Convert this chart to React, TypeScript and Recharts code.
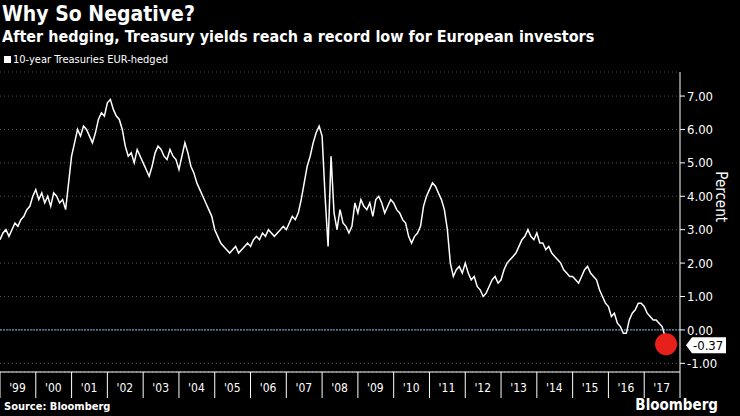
import React from 'react';
import { LineChart, Line, XAxis, YAxis, CartesianGrid, ReferenceLine, ReferenceDot } from 'recharts';

// monthly readings, Jan 1999 .. Sep 2017
const yields = [
  2.7, 2.9, 3.0, 2.8, 3.0, 3.2, 3.1, 3.3, 3.4, 3.6, 3.7, 4.0,
  4.2, 3.9, 4.1, 3.8, 4.0, 3.7, 4.1, 4.0, 3.8, 3.9, 3.6, 4.4,
  5.2, 5.6, 6.0, 5.8, 6.1, 6.0, 5.8, 5.6, 5.9, 6.3, 6.5, 6.4,
  6.8, 6.9, 6.6, 6.4, 6.3, 6.0, 5.5, 5.2, 5.3, 5.0, 5.4, 5.2,
  5.0, 4.8, 4.6, 4.9, 5.3, 5.5, 5.4, 5.2, 5.1, 5.4, 5.2, 5.1,
  4.8, 5.2, 5.6, 5.3, 4.9, 4.7, 4.4, 4.2, 4.0, 3.8, 3.6, 3.4,
  3.0, 2.8, 2.6, 2.5, 2.4, 2.3, 2.4, 2.5, 2.3, 2.4, 2.5, 2.6,
  2.5, 2.7, 2.8, 2.7, 2.9, 2.8, 3.0, 2.9, 2.8, 2.9, 3.0, 3.1,
  3.0, 3.2, 3.4, 3.3, 3.5, 3.9, 4.4, 4.9, 5.2, 5.6, 5.9, 6.1,
  5.8, 4.0, 2.5, 5.2, 3.5, 3.0, 3.6, 3.2, 3.1, 2.9, 3.1, 3.8,
  3.5, 3.9, 3.7, 3.6, 3.8, 3.4, 3.9, 4.0, 3.8, 3.5, 3.7, 3.9,
  3.8, 3.6, 3.5, 3.3, 3.2, 2.8, 2.6, 2.8, 2.9, 3.1, 3.7, 4.0,
  4.2, 4.4, 4.3, 4.1, 3.9, 3.6, 3.0, 2.0, 1.6, 1.8, 1.9, 1.7,
  2.0, 1.7, 1.5, 1.6, 1.3, 1.2, 1.0, 1.1, 1.3, 1.5, 1.6, 1.4,
  1.5, 1.8, 2.0, 2.1, 2.2, 2.3, 2.5, 2.7, 2.8, 3.0, 2.8, 2.7,
  2.9, 2.6, 2.6, 2.4, 2.5, 2.3, 2.2, 2.1, 2.0, 1.8, 1.7, 1.6,
  1.6, 1.5, 1.4, 1.6, 1.8, 1.9, 1.7, 1.6, 1.5, 1.2, 1.0, 0.8,
  0.7, 0.4, 0.5, 0.2, 0.1, -0.1, -0.1, 0.3, 0.5, 0.6, 0.8, 0.8,
  0.7, 0.5, 0.4, 0.3, 0.3, 0.2, 0.1, -0.2, -0.37,
];
const years = [1999, 2000, 2001, 2002, 2003, 2004, 2005, 2006, 2007, 2008, 2009, 2010, 2011, 2012, 2013, 2014, 2015, 2016, 2017, 2018];
const yTicks = [-1, 0, 1, 2, 3, 4, 5, 6, 7];

const data = yields.map((v, i) => ({ t: 1999 + i / 12, v }));
const last = data[data.length - 1];

const FONT = '"DejaVu Sans Condensed", "DejaVu Sans", sans-serif';

const YearTick = (props: any) => {
  const { x, y, payload } = props;
  const yr = payload.value as number;
  return (
    <g>
      <line x1={x} x2={x} y1={y - 8} y2={y + 18} stroke="#fff" strokeWidth={1} />
      {yr < 2018 && (
        <text x={x + 17.5} y={y + 12} fill="#fff" fontSize={12} textAnchor="middle" fontFamily={FONT}>
          {"'" + String(yr).slice(2)}
        </text>
      )}
    </g>
  );
};

const EndLabel = (props: any) => {
  const { cx, cy } = props;
  return (
    <g>
      <circle cx={cx - 2} cy={cy + 2} r={11} fill="#e8201c" />
      <path d={`M${686} ${cy + 3} l6 -8 h34 v16 h-34 z`} fill="#fff" />
      <text x={693} y={cy + 8} fill="#000" fontSize={13} fontFamily={FONT}>-0.37</text>
    </g>
  );
};

export default function App() {
  document.body.style.margin = '0';
  return (
    <div style={{ position: 'relative', width: 740, height: 416, background: '#000', fontFamily: FONT, color: '#fff' }}>
      <div style={{ position: 'absolute', left: 2, top: 2, fontSize: 21, fontWeight: 'bold' }}>Why So Negative?</div>
      <div style={{ position: 'absolute', left: 2, top: 27, fontSize: 16, fontWeight: 'bold' }}>
        After hedging, Treasury yields reach a record low for European investors
      </div>
      <div style={{ position: 'absolute', left: 4, top: 53, fontSize: 11, display: 'flex', alignItems: 'center' }}>
        <span style={{ display: 'inline-block', width: 7, height: 7, background: '#fff', marginRight: 2 }} />
        10-year Treasuries EUR-hedged
      </div>
      <div style={{ position: 'absolute', left: 4, top: 400, fontSize: 11, fontWeight: 'bold' }}>Source: Bloomberg</div>
      <div style={{ position: 'absolute', right: 22, top: 396, fontSize: 15, fontWeight: 'bold' }}>Bloomberg</div>
      <div style={{ position: 'absolute', left: 0, top: 0 }}>
        <LineChart width={740} height={416} data={data} margin={{ top: 72, right: 0, left: 0, bottom: 21 }}>
          <CartesianGrid stroke="#555" strokeDasharray="1 3" vertical={false} />
          <XAxis
            dataKey="t"
            type="number"
            domain={[1999, 2018]}
            ticks={years}
            tick={<YearTick />}
            tickLine={false}
            axisLine={{ stroke: '#fff' }}
            height={23}
            interval={0}
          />
          <YAxis
            orientation="right"
            domain={[-1.26, 7.72]}
            ticks={yTicks}
            tickFormatter={(v: number) => v.toFixed(2)}
            tick={{ fill: '#fff', fontSize: 13, fontFamily: FONT }}
            tickLine={{ stroke: '#fff' }}
            tickSize={5}
            axisLine={{ stroke: '#fff' }}
            width={60}
            label={{ value: 'Percent', angle: 90, position: 'insideRight', fill: '#fff', fontSize: 15, dx: -14 }}
          />
          <ReferenceLine y={0} stroke="#7fb2e5" strokeDasharray="2 1" />
          <Line dataKey="v" stroke="#fff" strokeWidth={1.5} dot={false} isAnimationActive={false} />
          <ReferenceDot x={last.t} y={last.v} shape={<EndLabel />} />
        </LineChart>
      </div>
    </div>
  );
}
